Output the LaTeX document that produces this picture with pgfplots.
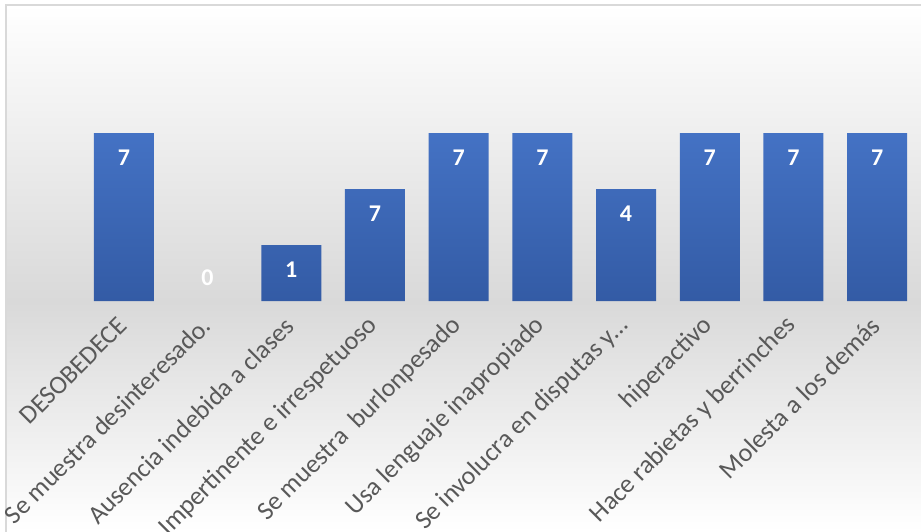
\documentclass[border=0pt]{standalone}
\usepackage{fontspec}
\setmainfont{Carlito}
\usepackage{pgfplots}
\pgfplotsset{compat=1.18}
\usepackage{pgfplotstable}

\definecolor{barTop}{HTML}{4472C4}
\definecolor{barBot}{HTML}{335BA5}
\definecolor{labGray}{HTML}{595959}
\definecolor{bgMid}{HTML}{D9D9D9}
\definecolor{frameGray}{HTML}{D9D9D9}

% y = drawn bar height, lab = data label shown, sh = label offset
\pgfplotstableread{
x y lab sh
0 3 7 -25
1 0 0 23
2 1 1 -25
3 2 7 -25
4 3 7 -25
5 3 7 -25
6 2 4 -25
7 3 7 -25
8 3 7 -25
9 3 7 -25
}\conducta

\begin{document}
\begin{tikzpicture}[x=1pt,y=1pt]
\useasboundingbox (-82,-230) rectangle (839,301);
\clip (-82,-230) rectangle (839,301);
\fill[white] (-82,-230) rectangle (839,301);
% background gradient
\shade[top color=white, bottom color=bgMid] (-76,0) rectangle (845,296);
\shade[top color=bgMid, bottom color=white] (-76,-230) rectangle (845,0);
\draw[frameGray, line width=1.5pt] (-76,-240) -- (-76,296) -- (850,296);

\begin{axis}[
    at={(0pt,0pt)}, anchor=south west,
    scale only axis,
    width=837pt, height=280pt,
    xmin=-0.5, xmax=9.5,
    ymin=0, ymax=5,
    ybar, bar width=60pt, bar shift=0pt,
    axis line style={draw=none},
    major tick length=0pt,
    ytick=\empty,
    xtick={0,...,9},
    xticklabels={
        DESOBEDECE,
        Se muestra desinteresado.,
        Ausencia indebida a clases,
        Impertinente e irrespetuoso,
        {Se muestra\ \ burlonpesado},
        Usa lenguaje inapropiado,
        Se involucra en disputas y…,
        hiperactivo,
        Hace rabietas y berrinches,
        Molesta a los demás
    },
    xticklabel style={
        font=\fontsize{26}{26}\selectfont, text=labGray,
        yshift=-18pt, xshift=1pt, rotate=45, anchor=east
    },
    clip=false,
    point meta=explicit symbolic,
    visualization depends on={\thisrow{sh} \as \labsh},
    nodes near coords,
    nodes near coords style={
        anchor=center, yshift=\labsh pt, text=white,
        font=\bfseries\fontsize{24}{24}\selectfont
    },
]
% bars with a height
\addplot[
    draw=none, shading=axis, top color=barTop, bottom color=barBot,
    restrict y to domain=0.5:10,
] table[x=x, y=y, meta=lab] {\conducta};
% the empty category keeps only its label
\addplot[
    draw=none, fill=none,
    restrict y to domain=-0.5:0.5,
] table[x=x, y=y, meta=lab] {\conducta};
\end{axis}
\end{tikzpicture}
\end{document}
